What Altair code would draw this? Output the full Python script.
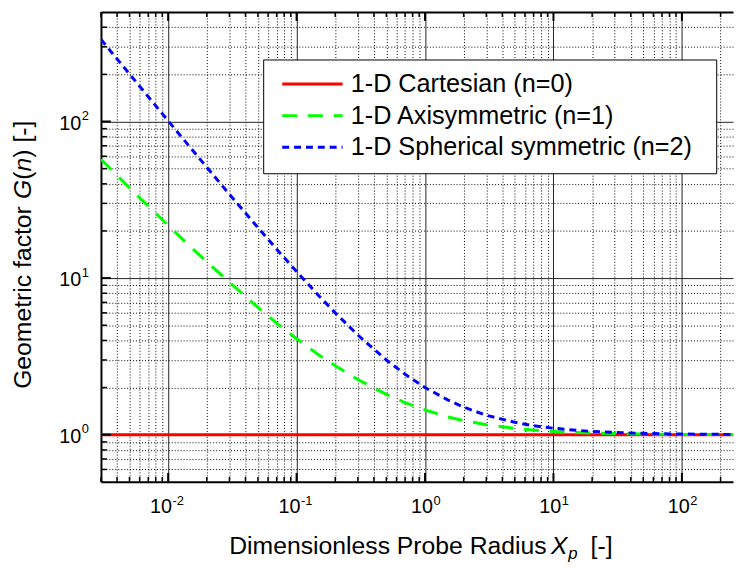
import altair as alt
import pandas as pd

# ---------------- data ----------------
x_pts = [0.003, 0.005, 0.007, 0.01, 0.015, 0.02, 0.03, 0.05, 0.07, 0.1, 0.15, 0.2,
         0.3, 0.5, 0.7, 1, 1.5, 2, 3, 5, 7, 10, 15, 20, 30, 50, 70, 100, 150, 250]
g_cart = [1.0] * len(x_pts)
g_axi = [57.4, 37.7, 28.8, 21.7, 15.8, 12.7, 9.4, 6.5, 5.15, 4.1, 3.22, 2.76,
         2.25, 1.81, 1.6, 1.44, 1.3, 1.23, 1.158, 1.097, 1.07, 1.049, 1.033, 1.025,
         1.017, 1.01, 1.007, 1.005, 1.003, 1.002]
g_sph = [334, 201, 144, 101, 67.7, 51, 34.3, 21, 15.3, 11, 7.67, 6,
         4.33, 3, 2.43, 2, 1.67, 1.5, 1.33, 1.2, 1.14, 1.1, 1.067, 1.05,
         1.033, 1.02, 1.014, 1.01, 1.007, 1.004]
series = ["1-D Cartesian (n=0)", "1-D Axisymmetric (n=1)", "1-D Spherical symmetric (n=2)"]
colors = ["#ff0000", "#00ff00", "#0000ff"]
dashes = [[1, 0], [15, 11], [7, 5]]

x_major = [0.01, 0.1, 1, 10, 100]
x_exp = ["-2", "-1", "0", "1", "2"]
x_minor = [0.003, 0.004, 0.005, 0.006, 0.007, 0.008, 0.009,
           0.02, 0.03, 0.04, 0.05, 0.06, 0.07, 0.08, 0.09,
           0.2, 0.3, 0.4, 0.5, 0.6, 0.7, 0.8, 0.9,
           2, 3, 4, 5, 6, 7, 8, 9,
           20, 30, 40, 50, 60, 70, 80, 90, 200]
y_major = [1, 10, 100]
y_exp = ["0", "1", "2"]
y_minor = [0.6, 0.7, 0.8, 0.9, 2, 3, 4, 5, 6, 7, 8, 9,
           20, 30, 40, 50, 60, 70, 80, 90, 200, 300, 400]

FONT = "Liberation Sans"
W, H = 639, 475

rows = []
for name, ys in zip(series, [g_cart, g_axi, g_sph]):
    for xv, yv in zip(x_pts, ys):
        rows.append({"x": xv, "g": yv, "series": name})
df = pd.DataFrame(rows)

xs = alt.Scale(type="log", domain=[0.003, 250], nice=False)
ys = alt.Scale(type="log", domain=[0.5, 500], nice=False)

color_enc = alt.Color(
    "series:N",
    scale=alt.Scale(domain=series, range=colors),
    legend=alt.Legend(
        orient="none", legendX=164, legendY=48,
        title="W", titleOrient="right", titleFontSize=12, titlePadding=0,
        titleColor="transparent",
        strokeColor="black", fillColor="white", padding=12, cornerRadius=0,
        symbolType="M-3.05,0H3.05", symbolSize=400, symbolStrokeWidth=3,
        symbolFillColor="transparent",
        symbolOffset=25, labelOffset=26, rowPadding=5,
        labelFont=FONT, labelFontSize=25.5, labelColor="black", labelLimit=500,
    ),
)
dash_enc = alt.StrokeDash("series:N", scale=alt.Scale(domain=series, range=dashes), legend=None)

major_x_axis = alt.Axis(orient="bottom", values=x_major, grid=True, gridColor="#222",
                        gridWidth=1, labels=False, ticks=False, domainColor="black",
                        domainWidth=2, title=None)
major_y_axis = alt.Axis(orient="left", values=y_major, grid=True, gridColor="#222",
                        gridWidth=1, labels=False, ticks=False, domainColor="black",
                        domainWidth=2, title=None)
minor_x_axis = alt.Axis(orient="top", values=x_minor, grid=True, gridColor="black",
                        gridWidth=1, gridDash=[1, 2], labels=False, ticks=False,
                        domainColor="black", domainWidth=2, title=None)
minor_y_axis = alt.Axis(orient="right", values=y_minor, grid=True, gridColor="black",
                        gridWidth=1, gridDash=[1, 2], labels=False, ticks=False,
                        domain=False, title=None)

base = alt.Chart(df)


def line_layer(name, xaxis, yaxis):
    return base.transform_filter(alt.datum.series == name).mark_line(
        strokeWidth=3, clip=True
    ).encode(
        x=alt.X("x:Q", scale=xs, axis=xaxis),
        y=alt.Y("g:Q", scale=ys, axis=yaxis),
        color=color_enc,
        strokeDash=dash_enc,
    )


l_red = line_layer(series[0], major_x_axis, major_y_axis)
l_green = line_layer(series[1], minor_x_axis, minor_y_axis)
l_blue = line_layer(series[2], None, None)

# inward ticks
dxM = pd.DataFrame({"v": x_major, "e": x_exp})
dxm = pd.DataFrame({"v": x_minor})
dyM = pd.DataFrame({"v": y_major, "e": y_exp})
dym = pd.DataFrame({"v": y_minor})


def xtick(d, y1, y2, w):
    return alt.Chart(d).mark_rule(color="black", strokeWidth=w).encode(
        x=alt.X("v:Q", scale=xs, axis=None), y=alt.value(y1), y2=alt.value(y2))


def ytick(d, x1, x2, w):
    return alt.Chart(d).mark_rule(color="black", strokeWidth=w).encode(
        y=alt.Y("v:Q", scale=ys, axis=None), x=alt.value(x1), x2=alt.value(x2))


ticks = [
    xtick(dxM, H, H - 9, 2), xtick(dxm, H, H - 5, 1.5),
    xtick(dxM, 0, 9, 2), xtick(dxm, 0, 5, 1.5),
    ytick(dyM, 0, 10, 2), ytick(dym, 0, 6, 1.5),
]

# tick labels: "10" with superscript exponent
neg = alt.datum.v < 1
pos = alt.datum.v >= 1


def xlab(filt, off):
    ten = alt.Chart(dxM).transform_filter(filt).mark_text(
        text="10", align="right", baseline="alphabetic", font=FONT, fontSize=20,
        color="black", dx=off).encode(x=alt.X("v:Q", scale=xs, axis=None), y=alt.value(506))
    ex = alt.Chart(dxM).transform_filter(filt).mark_text(
        align="left", baseline="alphabetic", font=FONT, fontSize=13,
        color="black", dx=off + 0.5).encode(
        x=alt.X("v:Q", scale=xs, axis=None), y=alt.value(498), text="e:N")
    return [ten, ex]


ylab_ten = alt.Chart(dyM).mark_text(
    text="10", align="right", baseline="alphabetic", font=FONT, fontSize=20,
    color="black", dy=8.5).encode(y=alt.Y("v:Q", scale=ys, axis=None), x=alt.value(-20))
ylab_ex = alt.Chart(dyM).mark_text(
    align="left", baseline="alphabetic", font=FONT, fontSize=13,
    color="black", dy=-1.5).encode(y=alt.Y("v:Q", scale=ys, axis=None), x=alt.value(-19.5),
                                   text="e:N")

# axis titles (pieces so that symbols can be italic)
one = pd.DataFrame({"k": [0]})


def piece(txt, x, y, size=25, italic=False, angle=0):
    kw = dict(text=txt, align="left", baseline="alphabetic", font=FONT, fontSize=size,
              color="black")
    if italic:
        kw["fontStyle"] = "italic"
    if angle:
        kw["angle"] = angle
    return alt.Chart(one).mark_text(**kw).encode(x=alt.value(x), y=alt.value(y))


titles = [
    piece("Dimensionless Probe Radius", 129.7, 547.7),
    piece("X", 455, 547.7, italic=True),
    piece("p", 472.5, 553.5, size=17, italic=True),
    piece("[-]", 495, 547.7),
    piece("Geometric factor", -70.8, 381, angle=270),
    piece("G", -70.8, 189, italic=True, angle=270),
    piece("(", -70.8, 169.5, angle=270),
    piece("n", -70.8, 161.2, italic=True, angle=270),
    piece(") [-]", -70.8, 147.3, angle=270),
]

chart = alt.layer(
    l_red, l_green, l_blue, *ticks, *xlab(neg, 4), *xlab(pos, 8), ylab_ten, ylab_ex, *titles
).resolve_axis(x="independent", y="independent").properties(
    width=W, height=H,
    autosize=alt.AutoSizeParams(type="none"),
    padding={"left": 94, "top": 1, "right": 1, "bottom": 80},
    background="white",
).configure_view(stroke="transparent")

chart.save("out.html", embed_options={"renderer": "svg", "actions": False})
